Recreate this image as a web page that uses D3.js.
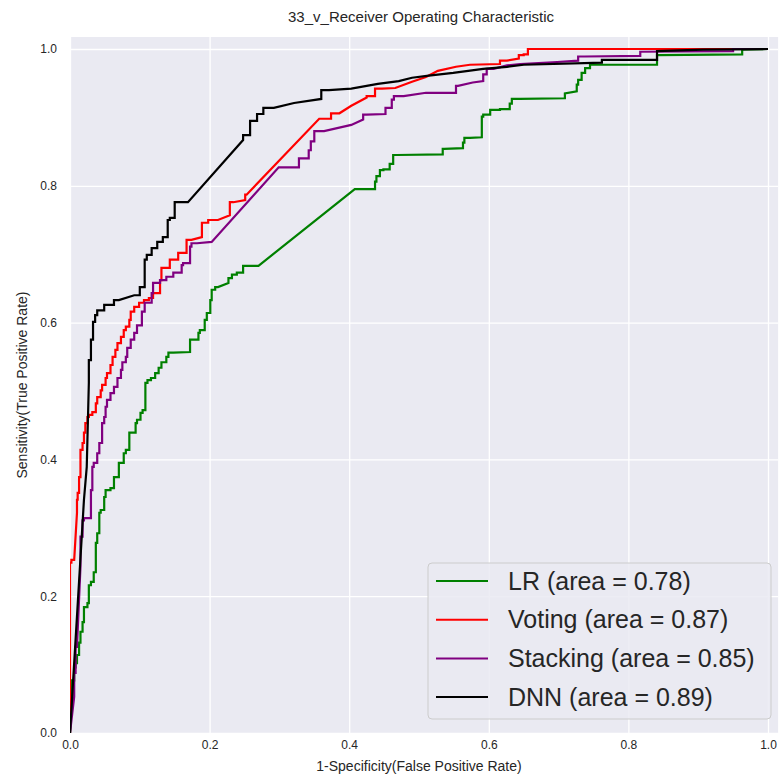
<!DOCTYPE html>
<html><head><meta charset="utf-8">
<script src="https://cdn.jsdelivr.net/npm/d3@7"></script>
<style>body{margin:0;background:#fff} svg{display:block} text{font-family:"Liberation Sans",Arial,sans-serif}</style>
</head><body><svg id="c" width="780" height="776"></svg>
<script>
const title = "33_v_Receiver Operating Characteristic";
const xLabel = "1-Specificity(False Positive Rate)";
const yLabel = "Sensitivity(True Positive Rate)";
const xTicks = [0, 0.2, 0.4, 0.6, 0.8, 1.0];
const yTicks = [0, 0.2, 0.4, 0.6, 0.8, 1.0];
const seriesNames = ["LR", "Voting", "Stacking", "DNN"];
const seriesAUC = [0.78, 0.87, 0.85, 0.89];
const seriesColors = ["green", "red", "purple", "black"];

const lrPoints = [[0,0],[0.003,0.048],[0.006,0.077],[0.008,0.096],[0.010,0.102],[0.013,0.114],[0.015,0.132],[0.018,0.148],[0.020,0.162],[0.025,0.184],[0.027,0.190],[0.030,0.216],[0.034,0.221],[0.037,0.235],[0.039,0.278],[0.042,0.292],[0.044,0.322],[0.049,0.326],[0.051,0.345],[0.058,0.355],[0.063,0.358],[0.070,0.374],[0.077,0.395],[0.080,0.409],[0.085,0.414],[0.087,0.439],[0.094,0.439],[0.096,0.453],[0.101,0.458],[0.104,0.468],[0.108,0.472],[0.111,0.512],[0.116,0.516],[0.122,0.519],[0.127,0.526],[0.131,0.534],[0.138,0.542],[0.141,0.550],[0.148,0.556],[0.172,0.557],[0.184,0.575],[0.186,0.585],[0.193,0.589],[0.196,0.604],[0.201,0.614],[0.203,0.633],[0.208,0.648],[0.212,0.652],[0.227,0.658],[0.232,0.665],[0.239,0.670],[0.248,0.673],[0.253,0.683],[0.270,0.683],[0.408,0.795],[0.437,0.795],[0.439,0.806],[0.444,0.814],[0.449,0.823],[0.458,0.824],[0.463,0.832],[0.468,0.845],[0.534,0.846],[0.536,0.854],[0.563,0.855],[0.565,0.863],[0.573,0.870],[0.590,0.871],[0.592,0.901],[0.602,0.904],[0.616,0.911],[0.630,0.912],[0.633,0.920],[0.645,0.927],[0.709,0.928],[0.709,0.935],[0.726,0.938],[0.728,0.948],[0.733,0.955],[0.738,0.965],[0.745,0.972],[0.747,0.977],[0.841,0.977],[0.841,0.991],[0.963,0.992],[0.963,0.999],[1,1]];

const votingPoints = [[0,0],[0,0.224],[0.002,0.249],[0.006,0.253],[0.010,0.322],[0.011,0.341],[0.013,0.351],[0.015,0.374],[0.018,0.414],[0.020,0.424],[0.022,0.439],[0.025,0.453],[0.027,0.462],[0.032,0.465],[0.037,0.469],[0.039,0.482],[0.044,0.491],[0.046,0.501],[0.051,0.509],[0.053,0.519],[0.058,0.526],[0.061,0.538],[0.065,0.550],[0.068,0.560],[0.073,0.570],[0.077,0.579],[0.080,0.589],[0.085,0.594],[0.087,0.604],[0.092,0.616],[0.099,0.623],[0.106,0.629],[0.113,0.633],[0.119,0.636],[0.129,0.643],[0.131,0.662],[0.143,0.680],[0.155,0.692],[0.167,0.702],[0.174,0.721],[0.189,0.725],[0.198,0.746],[0.212,0.750],[0.229,0.757],[0.234,0.776],[0.251,0.779],[0.253,0.787],[0.357,0.898],[0.374,0.898],[0.377,0.906],[0.386,0.906],[0.403,0.917],[0.425,0.929],[0.437,0.931],[0.447,0.942],[0.466,0.943],[0.490,0.952],[0.510,0.959],[0.527,0.968],[0.553,0.974],[0.573,0.977],[0.616,0.978],[0.626,0.983],[0.643,0.986],[0.650,0.991],[0.656,0.992],[0.659,1.0],[1,1]];

const stackingPoints = [[0,0],[0.006,0.053],[0.008,0.088],[0.010,0.126],[0.015,0.243],[0.018,0.287],[0.020,0.311],[0.030,0.314],[0.030,0.341],[0.032,0.355],[0.034,0.389],[0.039,0.395],[0.042,0.409],[0.046,0.424],[0.049,0.453],[0.051,0.462],[0.053,0.477],[0.058,0.487],[0.063,0.497],[0.068,0.506],[0.073,0.519],[0.075,0.531],[0.080,0.542],[0.082,0.550],[0.087,0.563],[0.092,0.575],[0.096,0.585],[0.103,0.596],[0.107,0.616],[0.117,0.629],[0.119,0.643],[0.129,0.658],[0.138,0.662],[0.148,0.667],[0.160,0.673],[0.162,0.684],[0.172,0.687],[0.174,0.711],[0.182,0.716],[0.203,0.718],[0.299,0.827],[0.328,0.827],[0.331,0.840],[0.342,0.840],[0.345,0.852],[0.350,0.865],[0.364,0.880],[0.403,0.889],[0.420,0.897],[0.425,0.904],[0.452,0.905],[0.461,0.914],[0.464,0.926],[0.478,0.931],[0.510,0.936],[0.553,0.936],[0.556,0.946],[0.577,0.951],[0.592,0.953],[0.597,0.963],[0.607,0.971],[0.626,0.976],[0.645,0.978],[0.698,0.981],[0.728,0.983],[0.737,0.989],[0.817,0.990],[0.817,0.996],[0.950,0.997],[0.953,1.0],[1,1]];

const dnnPoints = [[0,0],[0.020,0.341],[0.024,0.389],[0.027,0.512],[0.030,0.545],[0.033,0.575],[0.036,0.601],[0.039,0.611],[0.049,0.618],[0.063,0.626],[0.070,0.633],[0.092,0.640],[0.100,0.640],[0.107,0.652],[0.110,0.692],[0.117,0.699],[0.125,0.709],[0.133,0.718],[0.140,0.725],[0.143,0.750],[0.150,0.753],[0.153,0.776],[0.169,0.776],[0.248,0.867],[0.258,0.874],[0.268,0.895],[0.277,0.905],[0.292,0.914],[0.321,0.921],[0.360,0.927],[0.371,0.940],[0.403,0.942],[0.441,0.949],[0.471,0.953],[0.490,0.958],[0.514,0.961],[0.549,0.965],[0.592,0.971],[0.626,0.974],[0.650,0.977],[0.762,0.980],[0.766,0.984],[0.841,0.984],[0.841,0.997],[0.907,0.999],[1,1]];

const seriesPoints = [lrPoints, votingPoints, stackingPoints, dnnPoints];

const svg = d3.select("#c");
const x = d3.scaleLinear().domain([0, 1]).range([70, 768]);
const y = d3.scaleLinear().domain([0, 1]).range([733, 49]);
const xMax = 1.0145, yMax = 1.0175;

svg.append("defs").append("clipPath").attr("id", "plotclip").append("rect")
  .attr("x", x(0)).attr("y", y(yMax)).attr("width", x(xMax) - x(0)).attr("height", y(0) - y(yMax));

// background
svg.append("rect").attr("x", x(0)).attr("y", y(yMax))
  .attr("width", x(xMax) - x(0)).attr("height", y(0) - y(yMax)).attr("fill", "#EAEAF2");

// grid
const gx = svg.append("g").attr("transform", `translate(0,${y(0)})`)
  .call(d3.axisBottom(x).tickValues(xTicks).tickSize(-(y(0) - y(yMax))).tickFormat(""));
const gy = svg.append("g").attr("transform", `translate(${x(0)},0)`)
  .call(d3.axisLeft(y).tickValues(yTicks).tickSize(-(x(xMax) - x(0))).tickFormat(""));
[gx, gy].forEach(g => {
  g.select(".domain").remove();
  g.selectAll(".tick line").attr("stroke", "#fff").attr("stroke-width", 1.3);
});

// tick labels
const ax = svg.append("g").attr("transform", `translate(0,${y(0)})`)
  .call(d3.axisBottom(x).tickValues(xTicks).tickSize(0).tickPadding(7).tickFormat(d3.format(".1f")));
const ay = svg.append("g").attr("transform", `translate(${x(0)},0)`)
  .call(d3.axisLeft(y).tickValues(yTicks).tickSize(0).tickPadding(13).tickFormat(d3.format(".1f")));
[ax, ay].forEach(g => {
  g.select(".domain").remove();
  g.selectAll("text").attr("fill", "#262626").style("font-size", "12px").style("font-family", '"Liberation Sans",Arial,sans-serif');
});

// render short diagonal moves as ROC stair steps (up, then right)
function stairs(pts) {
  const out = [pts[0]];
  for (let i = 1; i < pts.length; i++) {
    const [x0, y0] = pts[i - 1], [x1, y1] = pts[i];
    if (x1 > x0 && y1 > y0 && x1 - x0 <= 0.015 && y1 - y0 <= 0.045) out.push([x0, y1]);
    out.push(pts[i]);
  }
  return out;
}

// curves
const line = d3.line().x(d => x(d[0])).y(d => y(d[1]));
const plot = svg.append("g").attr("clip-path", "url(#plotclip)");
seriesPoints.forEach((pts, i) => {
  plot.append("path").datum(stairs(pts)).attr("d", line)
    .attr("fill", "none").attr("stroke", seriesColors[i]).attr("stroke-width", 2.2)
    .attr("stroke-linejoin", "miter");
});

// texts
svg.append("text").attr("x", 421).attr("y", 22).attr("text-anchor", "middle")
  .attr("fill", "#262626").style("font-size", "15px").text(title);
svg.append("text").attr("x", 419).attr("y", 771).attr("text-anchor", "middle")
  .attr("fill", "#262626").style("font-size", "14px").text(xLabel);
svg.append("text").attr("transform", `translate(27,${(y(0) + y(yMax)) / 2}) rotate(-90)`).attr("text-anchor", "middle")
  .attr("fill", "#262626").style("font-size", "14px").text(yLabel);

// legend
const lg = svg.append("g");
lg.append("rect").attr("x", 428).attr("y", 563).attr("width", 343).attr("height", 156).attr("rx", 4)
  .attr("fill", "#EAEAF2").attr("fill-opacity", 0.85).attr("stroke", "#cccccc").attr("stroke-width", 1);
seriesNames.forEach((n, i) => {
  const ly = 581 + i * 38.7;
  lg.append("line").attr("x1", 436).attr("x2", 488).attr("y1", ly).attr("y2", ly)
    .attr("stroke", seriesColors[i]).attr("stroke-width", 2);
  lg.append("text").attr("x", 508).attr("y", ly).attr("dy", "0.35em").attr("fill", "#262626")
    .style("font-size", "25px").text(`${n} (area = ${seriesAUC[i].toFixed(2)})`);
});
</script></body></html>
